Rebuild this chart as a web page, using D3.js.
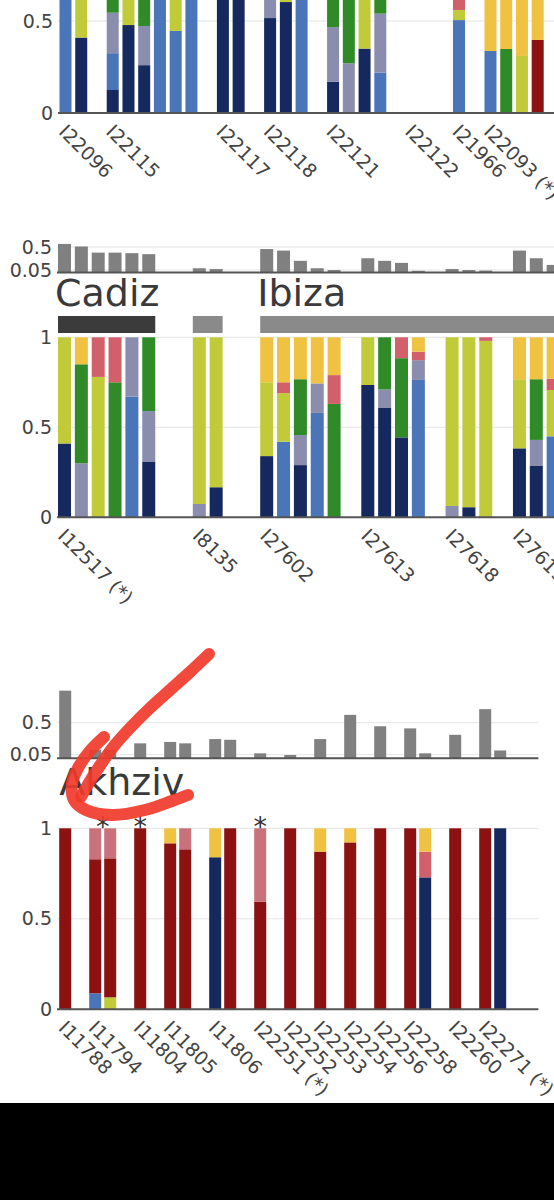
<!DOCTYPE html>
<html><head><meta charset="utf-8">
<script src="https://cdn.jsdelivr.net/npm/d3@7"></script>
<style>
html,body{margin:0;padding:0;background:#fff;}
svg{display:block;}
text{font-family:"DejaVu Sans",Verdana,sans-serif;}
</style></head><body>
<svg id="chart" width="554" height="1200"></svg>
<script>
// ---------- DATA ----------
const componentKeys = ["navy","blue","gray","green","yg","red","rose","pink","gold"];
const componentColors = ["#16295e","#4a75b9","#8a8dad","#2f8a27","#c1cb3a","#8c1212","#c9727b","#d1606b","#efc242"];

// rows: slot, navy, blue, gray, green, yg, red, rose, pink, gold
const panel1Bars = [
 [0, 0,1,0,0,0,0,0,0,0],
 [1, .41,0,0,0,.59,0,0,0,0],
 [3, .125,.2,.22,.455,0,0,0,0,0],
 [4, .478,0,0,0,.522,0,0,0,0],
 [5, .26,0,.213,.527,0,0,0,0,0],
 [6, 0,1,0,0,0,0,0,0,0],
 [7, 0,.446,0,0,.554,0,0,0,0],
 [8, 0,1,0,0,0,0,0,0,0],
 [10, 1,0,0,0,0,0,0,0,0],
 [11, 1,0,0,0,0,0,0,0,0],
 [13, .516,0,.484,0,0,0,0,0,0],
 [14, .603,0,0,0,.397,0,0,0,0],
 [15, 0,1,0,0,0,0,0,0,0],
 [17, .17,0,.297,.533,0,0,0,0,0],
 [18, 0,0,.27,.73,0,0,0,0,0],
 [19, .35,0,0,0,.65,0,0,0,0],
 [20, 0,.22,.32,.46,0,0,0,0,0],
 [25, 0,.505,0,0,.055,0,0,.44,0],
 [27, 0,.337,0,0,0,0,0,0,.663],
 [28, 0,0,0,.348,0,0,0,0,.652],
 [29, 0,0,0,0,.31,0,0,0,.69],
 [30, 0,0,0,0,0,.397,0,0,.603]
];
const panel1Labels = [[0,"I22096"],[3,"I22115"],[10,"I22117"],[13,"I22118"],[17,"I22121"],[22,"I22122"],[25,"I21966"],[27,"I22093 (*)"]];

const panel2Bars = [
 [0, .41,0,0,0,.59,0,0,0,0],
 [1, 0,0,.30,.55,0,0,0,0,.15],
 [2, 0,0,0,0,.78,0,0,.22,0],
 [3, 0,0,0,.75,0,0,0,.25,0],
 [4, 0,.67,.33,0,0,0,0,0,0],
 [5, .31,0,.28,.41,0,0,0,0,0],
 [8, 0,0,.074,0,.926,0,0,0,0],
 [9, .167,0,0,0,.833,0,0,0,0],
 [12, .34,0,0,0,.41,0,0,0,.25],
 [13, 0,.42,0,0,.27,0,0,.06,.25],
 [14, .29,0,.167,.31,0,0,0,0,.233],
 [15, 0,.58,.164,0,0,0,0,0,.256],
 [16, 0,0,0,.63,0,0,0,.16,.21],
 [18, .735,0,0,0,.265,0,0,0,0],
 [19, .61,0,.10,.29,0,0,0,0,0],
 [20, .444,0,0,.44,0,0,0,.116,0],
 [21, 0,.763,.11,0,0,0,0,.047,.08],
 [23, 0,0,.063,0,.937,0,0,0,0],
 [24, .056,0,0,0,.944,0,0,0,0],
 [25, 0,0,0,0,.98,0,0,.02,0],
 [27, .383,0,0,0,.384,0,0,0,.233],
 [28, .285,0,.145,.337,0,0,0,0,.233],
 [29, 0,.45,0,0,.257,0,0,.063,.23]
];
const panel2Mini = [[0,.56],[1,.51],[2,.39],[3,.39],[4,.38],[5,.36],[8,.085],[9,.07],[12,.46],[13,.43],[14,.23],[15,.085],[16,.05],[18,.28],[19,.23],[20,.19],[21,.035],[23,.07],[24,.05],[25,.04],[27,.43],[28,.28],[29,.15]];
const panel2Labels = [[0,"I12517 (*)"],[8,"I8135"],[12,"I27602"],[18,"I27613"],[23,"I27618"],[27,"I27619"]];
const panel2Groups = [["Cadiz",0,5],["",8,9],["Ibiza",12,31]];
const panel2GroupColors = ["#3b3b3b","#8a8a8a","#8a8a8a"];

const panel3Bars = [
 [0, 0,0,0,0,0,1,0,0,0],
 [2, 0,.088,0,0,0,.741,.171,0,0],
 [3, 0,0,0,0,.066,.768,.166,0,0],
 [5, 0,0,0,0,0,1,0,0,0],
 [7, 0,0,0,0,0,.917,0,0,.083],
 [8, 0,0,0,0,0,.884,.116,0,0],
 [10, .84,0,0,0,0,0,0,0,.16],
 [11, 0,0,0,0,0,1,0,0,0],
 [13, 0,0,0,0,0,.594,.406,0,0],
 [15, 0,0,0,0,0,1,0,0,0],
 [17, 0,0,0,0,0,.871,0,0,.129],
 [19, 0,0,0,0,0,.922,0,0,.078],
 [21, 0,0,0,0,0,1,0,0,0],
 [23, 0,0,0,0,0,1,0,0,0],
 [24, .729,0,0,0,0,0,0,.142,.129],
 [26, 0,0,0,0,0,1,0,0,0],
 [28, 0,0,0,0,0,1,0,0,0],
 [29, 1,0,0,0,0,0,0,0,0]
];
const panel3Mini = [[0,.95],[2,.12],[3,.12],[5,.21],[7,.23],[8,.21],[10,.27],[11,.26],[13,.07],[15,.046],[17,.27],[19,.61],[21,.45],[23,.42],[24,.07],[26,.33],[28,.69],[29,.11]];
const panel3Labels = [[0,"I11788"],[2,"I11794"],[5,"I11804"],[7,"I11805"],[10,"I11806"],[13,"I22251 (*)"],[15,"I22252"],[17,"I22253"],[19,"I22254"],[21,"I22256"],[23,"I22258"],[26,"I22260"],[28,"I22271 (*)"]];
const panel3Groups = [["Akhziv",0,31]];
const panel3Stars = [[2,3],[5],[13]];

// hand-drawn red annotation (overlay, not data)
const scribbleStrokes = [
 [[209,654],[190,672],[170,690],[150,708],[130,728],[114,746],[101,764],[90,781],[81,797]],
 [[104,737],[89,752],[78,768],[72,784],[74,800],[86,810],[112,815],[145,810],[172,801],[188,795]]
];

// ---------- DRAW ----------
const svg = d3.select("#chart");
const textColor = "#444";

function makeX(c){
  const p = 1 - c.bw / c.step;
  const o = (c.firstBar - c.x0) / c.step;
  return d3.scaleBand().domain(d3.range(c.n))
    .range([c.x0, c.x0 + c.step * (c.n - p + 2 * o)])
    .paddingInner(p).paddingOuter(o);
}

function yAxis(g, y, vals, x0){
  const ax = g.append("g").attr("transform", `translate(${x0},0)`)
    .call(d3.axisLeft(y).tickValues(vals).tickSize(0).tickPadding(5).tickFormat(d3.format("")));
  ax.select(".domain").remove();
  ax.selectAll("text").attr("fill", textColor).style("font-size", "19px");
}

function gridLines(g, y, vals, x0, x1){
  g.selectAll(null).data(vals).join("line")
    .attr("x1", x0).attr("x2", x1).attr("y1", d => y(d)).attr("y2", d => y(d))
    .attr("stroke", "#e4e4e4").attr("stroke-width", 1);
}

function drawStack(c){
  const x = makeX(c);
  const [x0, x1] = x.range();
  const y = d3.scaleLinear().domain([0, 1]).range([c.yBase, c.yOne]);
  const g = svg.append("g");
  gridLines(g, y, c.grid, x0, x1);
  const objs = c.bars.map(r => { const o = {slot: r[0]}; componentKeys.forEach((k, i) => o[k] = r[i + 1]); return o; });
  const series = d3.stack().keys(componentKeys)(objs);
  g.selectAll("g.layer").data(series).join("g").attr("class", "layer")
    .attr("fill", (d, i) => componentColors[i])
    .selectAll("rect").data(d => d.filter(s => s[1] - s[0] > 0)).join("rect")
    .attr("x", d => x(d.data.slot)).attr("width", x.bandwidth())
    .attr("y", d => y(d[1])).attr("height", d => y(d[0]) - y(d[1]));
  g.append("line").attr("x1", x0).attr("x2", x1).attr("y1", y(0)).attr("y2", y(0))
    .attr("stroke", "#555").attr("stroke-width", 2);
  yAxis(g, y, c.ticks, x0);
  const labelMap = new Map(c.labels);
  const xa = g.append("g").attr("transform", `translate(0,${y(0)})`)
    .call(d3.axisBottom(x).tickValues(c.labels.map(d => d[0])).tickSize(0).tickFormat(d => labelMap.get(d)));
  xa.select(".domain").remove();
  xa.selectAll("text").attr("fill", textColor).style("font-size", "19px")
    .attr("x", 0).attr("y", 0).attr("dy", "0.35em").attr("text-anchor", "start")
    .attr("transform", "translate(-3,15) rotate(45)");
  return {x, y, g};
}

function drawMini(c, x){
  const [x0, x1] = x.range();
  const y = d3.scaleLinear().domain([0, 1]).range([c.yBase, c.yOne]);
  const g = svg.append("g");
  gridLines(g, y, [0.05, 0.5], x0, x1);
  g.selectAll("rect").data(c.data).join("rect")
    .attr("x", d => x(d[0])).attr("width", x.bandwidth())
    .attr("y", d => y(d[1])).attr("height", d => y(0) - y(d[1]))
    .attr("fill", "#808080");
  g.append("line").attr("x1", x0).attr("x2", x1).attr("y1", y(0)).attr("y2", y(0))
    .attr("stroke", "#555").attr("stroke-width", 2);
  yAxis(g, y, [0.05, 0.5], x0);
}

function drawGroups(groups, colors, x, labelY, labelDx, barY, barH){
  const g = svg.append("g");
  groups.forEach((gr, i) => {
    const xs = x(gr[1]), xe = x(gr[2]) + x.bandwidth();
    if (colors) g.append("rect").attr("x", xs).attr("width", xe - xs).attr("y", barY).attr("height", barH).attr("fill", colors[i]);
    if (gr[0]) g.append("text").attr("x", xs + labelDx).attr("y", labelY).attr("fill", "#3a3a3a")
      .style("font-size", "38px").text(gr[0]);
  });
}

// Panel 1 (top, partly cropped)
drawStack({bars: panel1Bars, labels: panel1Labels, x0: 58, firstBar: 59.5, step: 15.74, bw: 12, n: 32,
  yBase: 113, yOne: -71, ticks: [0, 0.5], grid: [0.5]});

// Panel 2
const p2 = drawStack({bars: panel2Bars, labels: panel2Labels, x0: 57, firstBar: 58, step: 16.85, bw: 13, n: 32,
  yBase: 517.3, yOne: 337.3, ticks: [0, 0.5, 1], grid: [0.5, 1]});
drawMini({data: panel2Mini, yBase: 272.6, yOne: 221.4}, p2.x);
drawGroups(panel2Groups, panel2GroupColors, p2.x, 306, -3, 316, 17);

// Panel 3
const p3 = drawStack({bars: panel3Bars, labels: panel3Labels, x0: 57, firstBar: 59.2, step: 15, bw: 12, n: 32,
  yBase: 1009.3, yOne: 828.3, ticks: [0, 0.5, 1], grid: [0.5, 1]});
drawMini({data: panel3Mini, yBase: 758.3, yOne: 687.1}, p3.x);
drawGroups(panel3Groups, null, p3.x, 795, 0, 0, 0);
svg.append("g").selectAll("text").data(panel3Stars).join("text")
  .attr("x", d => d3.mean(d, s => p3.x(s) + p3.x.bandwidth() / 2))
  .attr("y", 836).attr("text-anchor", "middle").attr("fill", "#333")
  .style("font-size", "27px").text("*");

// black strip at the bottom
svg.append("rect").attr("x", 0).attr("y", 1103).attr("width", 554).attr("height", 97).attr("fill", "#000");

// red hand annotation
svg.append("g").selectAll("path").data(scribbleStrokes).join("path")
  .attr("d", d3.line().curve(d3.curveCatmullRom))
  .attr("fill", "none").attr("stroke", "#f0392b").attr("stroke-opacity", 0.92)
  .attr("stroke-width", 12).attr("stroke-linecap", "round").attr("stroke-linejoin", "round");
</script>
</body></html>
